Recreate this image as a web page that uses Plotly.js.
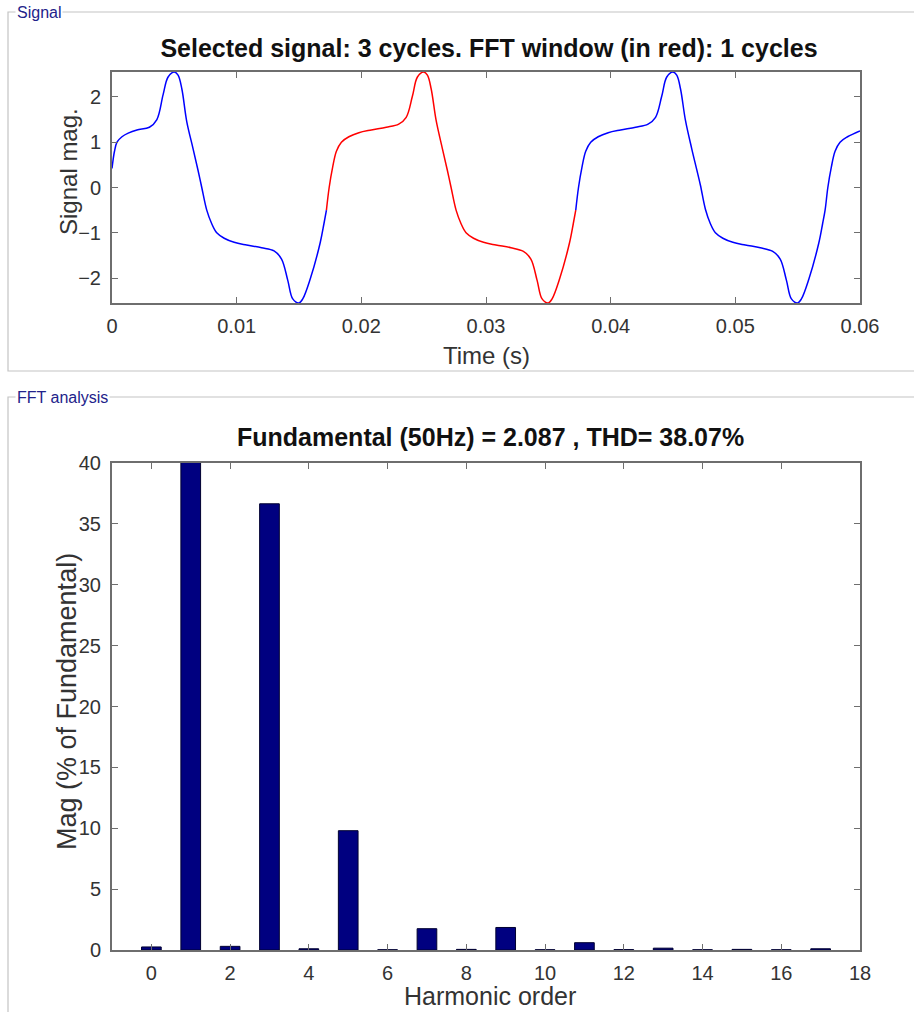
<!DOCTYPE html>
<html>
<head>
<meta charset="utf-8">
<script src="https://cdn.plot.ly/plotly-3.0.1.min.js"></script>
<style>
  html, body { margin: 0; padding: 0; background: #ffffff; }
  #chart { width: 914px; height: 1012px; }
</style>
</head>
<body>
<div id="chart"></div>
<script>
// ---- Signal ----
const timeBlueA = [0, 0.0002, 0.0004, 0.0008, 0.0013, 0.0020, 0.0030, 0.0036, 0.0041, 0.0045, 0.0050, 0.0053, 0.0056, 0.0060, 0.0065, 0.0069, 0.0072, 0.0076, 0.0080, 0.0084, 0.0090, 0.0098, 0.0108, 0.0120, 0.0130, 0.0136, 0.0141, 0.0145, 0.0150, 0.0153, 0.0159, 0.0167, 0.0170, 0.0172];
const sigBlueA  = [0.42, 0.80, 1.00, 1.12, 1.20, 1.27, 1.33, 1.50, 2.05, 2.44, 2.55, 2.48, 2.18, 1.45, 0.86, 0.38, 0.0, -0.50, -0.80, -1.00, -1.12, -1.21, -1.27, -1.33, -1.40, -1.58, -2.05, -2.46, -2.55, -2.46, -2.02, -1.22, -0.80, -0.50];

const timeRed = [0.0172, 0.01742, 0.0177, 0.0180, 0.0184, 0.0190, 0.0198, 0.0208, 0.0220, 0.0230, 0.0236, 0.0241, 0.0245, 0.0250, 0.0253, 0.0256, 0.0260, 0.0265, 0.0269, 0.0272, 0.0276, 0.0280, 0.0284, 0.0290, 0.0298, 0.0308, 0.0320, 0.0330, 0.0336, 0.0341, 0.0345, 0.0350, 0.0353, 0.0359, 0.0367, 0.0370, 0.0372];
const sigRed  = [-0.50, 0.0, 0.45, 0.80, 1.00, 1.12, 1.21, 1.27, 1.33, 1.40, 1.55, 2.02, 2.44, 2.55, 2.48, 2.18, 1.48, 0.86, 0.38, 0.0, -0.50, -0.80, -1.00, -1.12, -1.21, -1.27, -1.33, -1.41, -1.58, -2.05, -2.46, -2.55, -2.46, -2.02, -1.22, -0.80, -0.50];

const timeBlueB = [0.0372, 0.03742, 0.0377, 0.0380, 0.0384, 0.0390, 0.0398, 0.0408, 0.0420, 0.0430, 0.0436, 0.0441, 0.0445, 0.0450, 0.0453, 0.0456, 0.0460, 0.0465, 0.0469, 0.0472, 0.0476, 0.0480, 0.0484, 0.0490, 0.0498, 0.0508, 0.0520, 0.0530, 0.0536, 0.0541, 0.0545, 0.0550, 0.0553, 0.0559, 0.0567, 0.0570, 0.0572, 0.05742, 0.0577, 0.0580, 0.0584, 0.0590, 0.0600];
const sigBlueB  = [-0.50, 0.0, 0.45, 0.80, 1.00, 1.12, 1.21, 1.27, 1.33, 1.40, 1.55, 2.02, 2.44, 2.55, 2.48, 2.18, 1.48, 0.86, 0.40, 0.05, -0.48, -0.80, -1.00, -1.12, -1.21, -1.27, -1.33, -1.41, -1.58, -2.05, -2.46, -2.55, -2.46, -2.02, -1.22, -0.80, -0.50, 0.0, 0.45, 0.80, 1.00, 1.12, 1.25];

// ---- FFT analysis ----
const harmonicOrder = [0, 1, 2, 3, 4, 5, 6, 7, 8, 9, 10, 11, 12, 13, 14, 15, 16, 17];
const magPercent    = [0.25, 100, 0.3, 36.65, 0.1, 9.8, 0.02, 1.75, 0.05, 1.85, 0.02, 0.6, 0.03, 0.15, 0.02, 0.05, 0.02, 0.1];

const signalTitle = 'Selected signal: 3 cycles. FFT window (in red): 1 cycles';
const fftTitle = 'Fundamental (50Hz) = 2.087 , THD= 38.07%';
const signalXTitle = 'Time (s)';
const signalYTitle = 'Signal mag.';
const fftXTitle = 'Harmonic order';
const fftYTitle = 'Mag (% of Fundamental)';
const yTicks1 = [-2, -1, 0, 1, 2];

// ---- layout helpers (pixel -> paper) ----
const W = 914, H = 1012;
const px = x => x / W;
const py = y => 1 - y / H;

const FONT = 'Liberation Sans, Arial, sans-serif';
const tickFont = {family: FONT, size: 20, color: '#333333'};
const titleFont = {family: FONT, size: 25, color: '#111111'};
const panelFont = {family: FONT, size: 16, color: '#22228a'};
const axFont = s => ({family: FONT, size: s, color: '#333333'});
const axisCommon = {
  showline: true, mirror: 'ticks', linecolor: '#6e6e6e', linewidth: 2,
  ticks: 'inside', ticklen: 6, tickwidth: 1, tickcolor: '#6e6e6e',
  showgrid: false, zeroline: false, tickfont: tickFont, fixedrange: true
};

const traces = [
  {x: timeBlueA, y: sigBlueA, type: 'scatter', mode: 'lines', line: {color: '#0000ff', width: 1.5, shape: 'spline', smoothing: 1}, xaxis: 'x', yaxis: 'y', hoverinfo: 'skip'},
  {x: timeRed, y: sigRed, type: 'scatter', mode: 'lines', line: {color: '#ff0000', width: 1.5, shape: 'spline', smoothing: 1}, xaxis: 'x', yaxis: 'y', hoverinfo: 'skip'},
  {x: timeBlueB, y: sigBlueB, type: 'scatter', mode: 'lines', line: {color: '#0000ff', width: 1.5, shape: 'spline', smoothing: 1}, xaxis: 'x', yaxis: 'y', hoverinfo: 'skip'},
  {x: harmonicOrder, y: magPercent, type: 'bar', width: 0.5, marker: {color: '#000080', line: {color: '#000030', width: 1}}, xaxis: 'x2', yaxis: 'y2', hoverinfo: 'skip'}
];

const layout = {
  width: W, height: H,
  margin: {l: 0, r: 0, t: 0, b: 0},
  paper_bgcolor: '#ffffff', plot_bgcolor: '#ffffff',
  showlegend: false,
  font: {family: FONT},
  title: {text: '<b>' + signalTitle + '</b>', x: px(489), xanchor: 'center', y: py(48), yanchor: 'middle', xref: 'paper', yref: 'paper', font: titleFont},
  xaxis: Object.assign({}, axisCommon, {domain: [px(112), px(860)], range: [0, 0.06], dtick: 0.01, tick0: 0, anchor: 'y', ticklabelstandoff: 4}),
  yaxis: Object.assign({}, axisCommon, {domain: [py(303), py(72)], range: [-2.55, 2.55], tickvals: yTicks1, anchor: 'x', ticklabelstandoff: 5}),
  xaxis2: Object.assign({}, axisCommon, {domain: [px(112), px(860)], range: [-1, 18], dtick: 2, tick0: 0, anchor: 'y2', ticklabelstandoff: 4}),
  yaxis2: Object.assign({}, axisCommon, {domain: [py(950), py(463)], range: [0, 40], dtick: 5, tick0: 0, anchor: 'x2', ticklabelstandoff: 5}),
  shapes: [
    {type: 'rect', xref: 'paper', yref: 'paper', x0: px(8), x1: px(930), y0: py(371), y1: py(12), line: {color: '#c4c4c4', width: 1.2}, fillcolor: 'rgba(0,0,0,0)', layer: 'below'},
    {type: 'rect', xref: 'paper', yref: 'paper', x0: px(8), x1: px(930), y0: py(1030), y1: py(397), line: {color: '#c4c4c4', width: 1.2}, fillcolor: 'rgba(0,0,0,0)', layer: 'below'}
  ],
  annotations: [
    {text: '<b>' + fftTitle + '</b>', xref: 'paper', yref: 'paper', x: px(490), y: py(437), xanchor: 'center', yanchor: 'middle', showarrow: false, font: titleFont},
    {text: signalXTitle, xref: 'paper', yref: 'paper', x: px(487), y: py(356), xanchor: 'center', yanchor: 'middle', showarrow: false, font: axFont(24)},
    {text: signalYTitle, xref: 'paper', yref: 'paper', x: px(68), y: py(172), xanchor: 'center', yanchor: 'middle', textangle: -90, showarrow: false, font: axFont(24)},
    {text: fftXTitle, xref: 'paper', yref: 'paper', x: px(490), y: py(996), xanchor: 'center', yanchor: 'middle', showarrow: false, font: axFont(25)},
    {text: fftYTitle, xref: 'paper', yref: 'paper', x: px(67), y: py(702), xanchor: 'center', yanchor: 'middle', textangle: -90, showarrow: false, font: axFont(27)},
    {text: 'Signal', xref: 'paper', yref: 'paper', x: px(15), y: py(12), xanchor: 'left', yanchor: 'middle', showarrow: false, bgcolor: '#ffffff', borderpad: 1, font: panelFont},
    {text: 'FFT analysis', xref: 'paper', yref: 'paper', x: px(15), y: py(397), xanchor: 'left', yanchor: 'middle', showarrow: false, bgcolor: '#ffffff', borderpad: 1, font: panelFont}
  ]
};

Plotly.newPlot('chart', traces, layout, {displayModeBar: false, staticPlot: true});
</script>
</body>
</html>
